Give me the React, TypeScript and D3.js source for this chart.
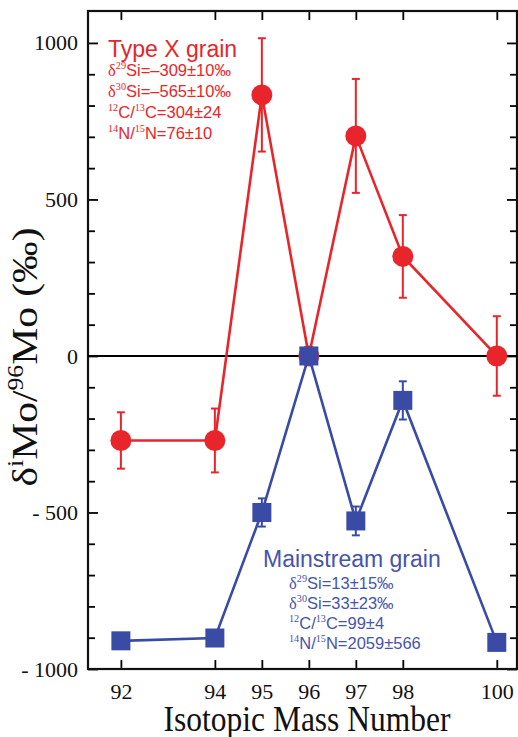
import React, { useRef, useEffect } from "react";
import * as d3 from "d3";

const width = 518;
const height = 737;
const frame = { left: 88, right: 517, top: 11, bottom: 669 };

const massNumbers = [92, 94, 95, 96, 97, 98, 100];
const typeXDelta = [-270, -270, 834, 0, 703, 318, 0];
const typeXError = [90, 102, 181, 0, 182, 132, 127];
const mainstreamDelta = [-910, -901, -500, 0, -527, -142, -915];
const mainstreamError = [0, 0, 45, 0, 46, 61, 0];
const yMajorTicks = [-1000, -500, 0, 500, 1000];

const typeXTitle = "Type X grain";
const typeXNotes = ["{δ}[29]Si=–309±10‰", "{δ}[30]Si=–565±10‰", "[12]C/[13]C=304±24", "[14]N/[15]N=76±10"];
const mainstreamTitle = "Mainstream grain";
const mainstreamNotes = ["{δ}[29]Si=13±15‰", "{δ}[30]Si=33±23‰", "[12]C/[13]C=99±4", "[14]N/[15]N=2059±566"];
const xTitle = "Isotopic Mass Number";
const yTitle = "{δ}[i]Mo/[96]Mo (‰)";

const red = "#e8252b";
const blue = "#3a4ba6";
const blueText = "#4654ad";
const serif = "Liberation Serif, Times New Roman, serif";
const sans = "Liberation Sans, Arial, sans-serif";

// {x} = serif glyph, [x] = superscript
const richText = (text: any, str: string, size: number, font: string) => {
    const parts = str.split(/(\{[^}]*\}|\[[^\]]*\])/).filter(p => p.length);
    let raised = false;
    parts.forEach(p => {
        const sup = p.startsWith("[");
        const greek = p.startsWith("{");
        const t = text.append("tspan")
            .text(sup || greek ? p.slice(1, -1) : p)
            .style("font-family", sup || greek ? serif : font)
            .attr("font-size", sup ? size * 0.62 : size);
        if (sup && !raised) { t.attr("dy", -size * 0.4); raised = true; }
        else if (!sup && raised) { t.attr("dy", size * 0.4); raised = false; }
    });
};

const App = () => {
    const ref = useRef<SVGSVGElement>(null);

    useEffect(() => {
        const svg = d3.select(ref.current);
        svg.selectAll("*").remove();

        const x = d3.scaleLinear()
            .domain([91.3, 100.43])
            .range([frame.left, frame.right]);
        const y = d3.scaleLinear()
            .domain([-1000, 1102])
            .range([frame.bottom, frame.top]);

        const minorTicks = y.ticks(20).filter(v => v > -1000 && v < 1100 && v % 500 !== 0);

        // axes, ticks inward
        const styleAxis = (g: any) => {
            g.attr("font-family", null).style("font-family", serif);
            g.select(".domain").remove();
            g.selectAll(".tick line").attr("stroke", "#000").attr("stroke-width", 1.8);
            g.selectAll("text").style("font-family", serif).attr("font-size", 22).attr("fill", "#111");
        };
        svg.append("g")
            .attr("transform", `translate(0,${frame.bottom})`)
            .call(d3.axisBottom(x).tickValues(massNumbers).tickSize(-9).tickPadding(14).tickFormat(d => String(d)))
            .call(styleAxis);
        svg.append("g")
            .attr("transform", `translate(0,${frame.top})`)
            .call(d3.axisTop(x).tickValues(massNumbers).tickSize(-9).tickFormat(() => ""))
            .call(styleAxis);
        svg.append("g")
            .attr("transform", `translate(${frame.left},0)`)
            .call(d3.axisLeft(y).tickValues(yMajorTicks).tickSize(-10).tickPadding(10)
                .tickFormat(d => (+d < 0 ? "- " + Math.abs(+d) : String(d))))
            .call(styleAxis)
            .call(g => g.selectAll("text").attr("xml:space", "preserve").style("white-space", "pre"));
        svg.append("g")
            .attr("transform", `translate(${frame.left},0)`)
            .call(d3.axisLeft(y).tickValues(minorTicks).tickSize(-7).tickFormat(() => ""))
            .call(styleAxis);
        svg.append("g")
            .attr("transform", `translate(${frame.right},0)`)
            .call(d3.axisRight(y).tickValues(yMajorTicks).tickSize(-10).tickFormat(() => ""))
            .call(styleAxis);
        svg.append("g")
            .attr("transform", `translate(${frame.right},0)`)
            .call(d3.axisRight(y).tickValues(minorTicks).tickSize(-7).tickFormat(() => ""))
            .call(styleAxis);

        svg.append("rect")
            .attr("x", frame.left)
            .attr("y", frame.top)
            .attr("width", frame.right - frame.left)
            .attr("height", frame.bottom - frame.top)
            .attr("fill", "none")
            .attr("stroke", "#111")
            .attr("stroke-width", 2.2);

        // zero line
        svg.append("line")
            .attr("x1", frame.left).attr("x2", frame.right)
            .attr("y1", y(0)).attr("y2", y(0))
            .attr("stroke", "#000").attr("stroke-width", 2);

        const series = [
            { values: typeXDelta, errors: typeXError, color: red, shape: "circle" },
            { values: mainstreamDelta, errors: mainstreamError, color: blue, shape: "square" },
        ];

        series.forEach(s => {
            const pts = massNumbers.map((m, i) => ({ m, v: s.values[i], e: s.errors[i] }));
            const g = svg.append("g");
            g.append("path")
                .datum(pts)
                .attr("fill", "none")
                .attr("stroke", s.color)
                .attr("stroke-width", 2.6)
                .attr("d", d3.line<any>().x(d => x(d.m)).y(d => y(d.v)));

            const err = g.selectAll(".err").data(pts.filter(d => d.e > 0)).join("g");
            err.append("line")
                .attr("x1", d => x(d.m)).attr("x2", d => x(d.m))
                .attr("y1", d => y(d.v - d.e)).attr("y2", d => y(d.v + d.e))
                .attr("stroke", s.color).attr("stroke-width", 2);
            [-1, 1].forEach(sign => {
                err.append("line")
                    .attr("x1", d => x(d.m) - 4).attr("x2", d => x(d.m) + 4)
                    .attr("y1", d => y(d.v + sign * d.e)).attr("y2", d => y(d.v + sign * d.e))
                    .attr("stroke", s.color).attr("stroke-width", 2);
            });

            if (s.shape === "circle") {
                g.selectAll(".pt").data(pts).join("circle")
                    .attr("cx", d => x(d.m))
                    .attr("cy", d => y(d.v))
                    .attr("r", 10.5)
                    .attr("fill", s.color);
            } else {
                g.selectAll(".pt").data(pts).join("rect")
                    .attr("x", d => x(d.m) - 9.5)
                    .attr("y", d => y(d.v) - 9.5)
                    .attr("width", 19)
                    .attr("height", 19)
                    .attr("fill", s.color);
            }
        });

        // annotations
        svg.append("text")
            .attr("x", 108).attr("y", 57)
            .style("font-family", sans).attr("font-size", 23)
            .attr("fill", red)
            .text(typeXTitle);
        typeXNotes.forEach((n, i) => {
            const t = svg.append("text")
                .attr("x", 108).attr("y", 76 + i * 21)
                .attr("fill", red);
            richText(t, n, 16.5, sans);
        });

        svg.append("text")
            .attr("x", 263).attr("y", 567)
            .style("font-family", sans).attr("font-size", 23)
            .attr("fill", blueText)
            .text(mainstreamTitle);
        mainstreamNotes.forEach((n, i) => {
            const t = svg.append("text")
                .attr("x", 289).attr("y", 589 + i * 20)
                .attr("fill", blueText);
            richText(t, n, 16.5, sans);
        });

        // axis titles, fitted to the measured widths
        const xt = svg.append("text")
            .attr("text-anchor", "middle")
            .style("font-family", serif).attr("font-size", 35)
            .attr("fill", "#111")
            .text(xTitle);
        const xw = (xt.node() as SVGTextElement).getComputedTextLength();
        xt.attr("transform", `translate(307,731) scale(${287 / xw},1)`);

        const yt = svg.append("text")
            .attr("text-anchor", "middle")
            .attr("fill", "#111");
        richText(yt, yTitle, 36, serif);
        const yw = (yt.node() as SVGTextElement).getComputedTextLength();
        yt.attr("transform", `translate(37,357) rotate(-90) scale(${259 / yw},1)`);
    }, []);

    return (
        <div>
            <svg
                ref={ref}
                width={width}
                height={height}
                viewBox={`0 0 ${width} ${height}`}
                style={{ position: "absolute", left: 0, top: 0, background: "#fff" }}
            />
        </div>
    );
};

export default App;
